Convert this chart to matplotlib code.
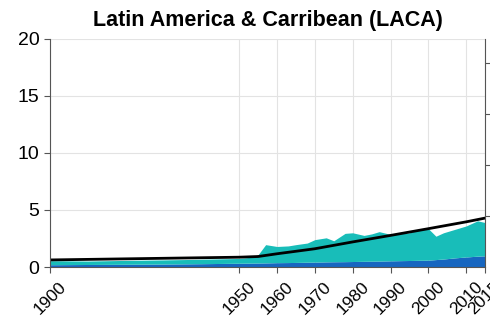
import matplotlib.pyplot as plt

plt.rcParams['font.family'] = ['Liberation Sans', 'DejaVu Sans']

# values
years = [1900, 1910, 1920, 1930, 1940, 1950, 1953, 1955, 1957, 1960, 1963, 1965,
         1968, 1970, 1973, 1975, 1978, 1980, 1983, 1985, 1987, 1990, 1993, 1995,
         1998, 2000, 2002, 2004, 2007, 2010, 2013, 2015]
dark = [0.2, 0.22, 0.24, 0.26, 0.29, 0.33, 0.34, 0.35, 0.36, 0.38, 0.39, 0.4,
        0.42, 0.43, 0.45, 0.46, 0.47, 0.48, 0.5, 0.51, 0.52, 0.54, 0.56, 0.57,
        0.59, 0.6, 0.65, 0.7, 0.8, 0.88, 0.95, 0.98]
total = [0.55, 0.52, 0.58, 0.62, 0.68, 0.75, 0.85, 1.07, 1.96, 1.8, 1.85, 1.96,
         2.1, 2.4, 2.56, 2.3, 2.95, 3.0, 2.77, 2.9, 3.1, 2.86, 2.95, 3.0,
         3.36, 3.36, 2.7, 3.0, 3.3, 3.6, 4.05, 3.9]
line_years = [1900, 1950, 1955, 1960, 1970, 1980, 1990, 2000, 2010, 2015]
line_vals = [0.62, 0.86, 0.92, 1.16, 1.6, 2.2, 2.77, 3.36, 3.96, 4.29]

xticks = [1900, 1950, 1960, 1970, 1980, 1990, 2000, 2010, 2015]

fig = plt.figure(figsize=(4.9, 3.19), dpi=100)
ax = fig.add_axes([0.102, 0.163, 0.888, 0.715])

ax.fill_between(years, 0, dark, color='#1766c0', lw=0)
ax.fill_between(years, dark, total, color='#18bdb9', lw=0)
ax.plot(line_years, line_vals, color='black', lw=2)

ax.set_xlim(1900, 2015)
ax.set_ylim(0, 20)
ax.set_yticks([0, 5, 10, 15, 20])
ax.set_xticks(xticks)
ax.set_xticklabels([str(y) for y in xticks], rotation=45, ha='center')
ax.tick_params(labelsize=14, color='#555555', length=4)
ax.tick_params(axis='x', labelsize=12.5, pad=5)
ax.grid(True, color='#e3e3e3', lw=0.8)
ax.set_axisbelow(True)
ax.spines['top'].set_visible(False)
ax.spines['right'].set_visible(False)
ax.spines['left'].set_color('#555555')
ax.spines['bottom'].set_color('#555555')

ax2 = ax.twinx()
ax2.set_ylim(0, 4.47)
ax2.set_yticks([1, 2, 3, 4])
ax2.set_yticklabels([])
ax2.tick_params(color='#555555', length=4)
ax2.spines['top'].set_visible(False)
ax2.spines['left'].set_visible(False)
ax2.spines['bottom'].set_visible(False)
ax2.spines['right'].set_color('#555555')

ax.set_title('Latin America & Carribean (LACA)', fontsize=15.5, fontweight='bold',
             pad=9)

fig.savefig('out.png', dpi=100)
